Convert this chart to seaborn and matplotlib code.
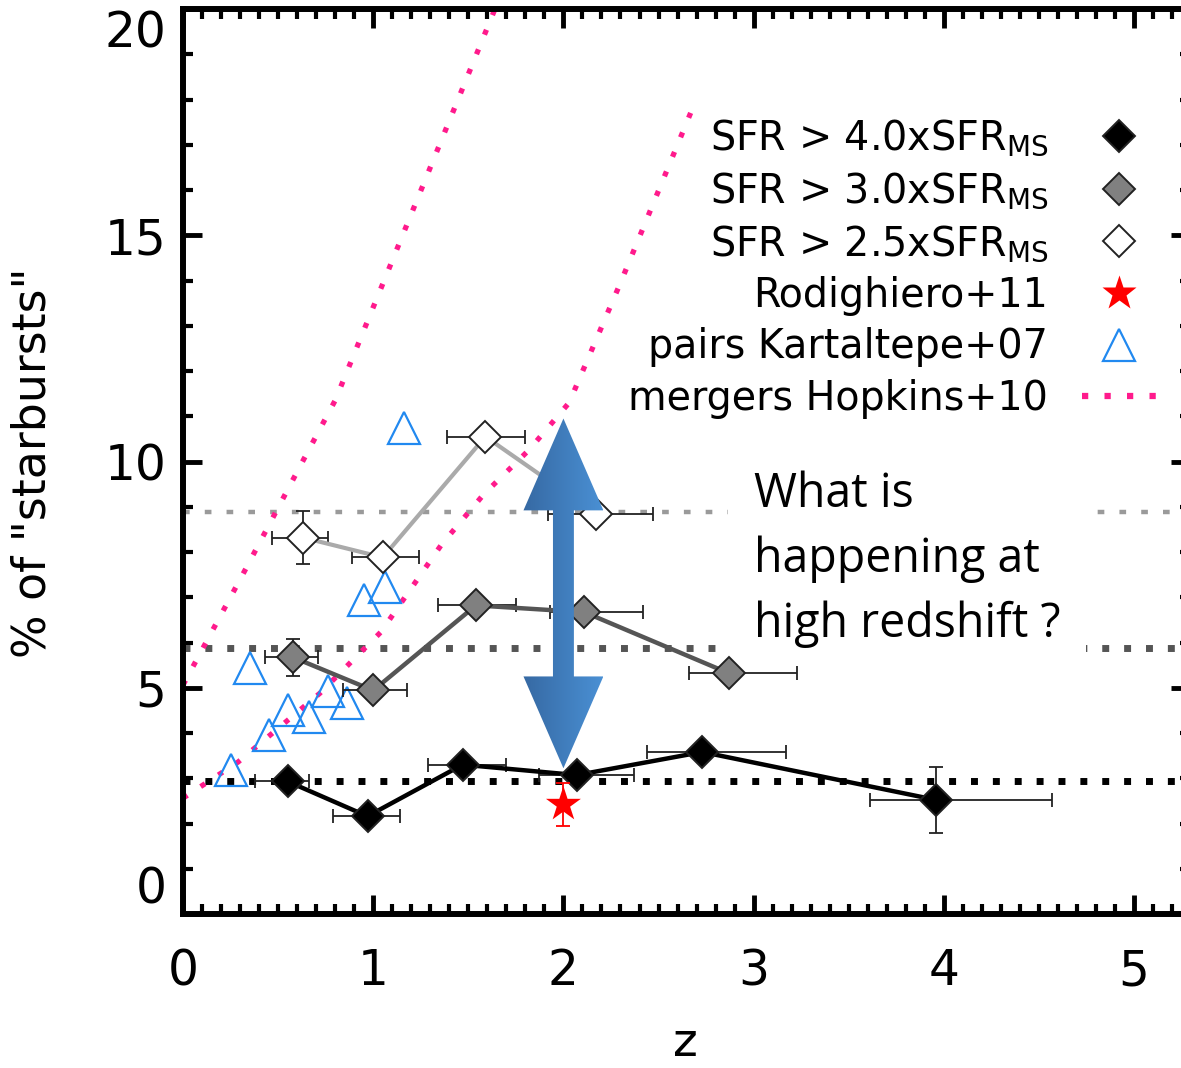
import numpy as np
import pandas as pd
import matplotlib
matplotlib.use("Agg")
import matplotlib.pyplot as plt
import matplotlib.patches as mpatches
from matplotlib.lines import Line2D
from matplotlib.ticker import MultipleLocator
import seaborn as sns

# ---------------- data ----------------
z_sfr4 = [0.55, 0.97, 1.47, 2.07, 2.73, 3.96]
f_sfr4 = [2.93, 2.16, 3.30, 3.07, 3.58, 2.52]
zlo_sfr4 = [0.17, 0.18, 0.18, 0.20, 0.29, 0.35]
zhi_sfr4 = [0.11, 0.17, 0.23, 0.30, 0.44, 0.61]
ferr_sfr4 = [0.05, 0.05, 0.12, 0.05, 0.15, 0.72]

z_sfr3 = [0.58, 1.00, 1.54, 2.11, 2.87]
f_sfr3 = [5.67, 4.94, 6.82, 6.67, 5.32]
zlo_sfr3 = [0.15, 0.16, 0.20, 0.18, 0.21]
zhi_sfr3 = [0.13, 0.18, 0.21, 0.31, 0.36]
ferr_sfr3 = [0.40, 0.05, 0.10, 0.10, 0.10]

z_sfr25 = [0.63, 1.05, 1.59, 2.17]
f_sfr25 = [8.32, 7.88, 10.55, 8.85]
zlo_sfr25 = [0.16, 0.16, 0.20, 0.25]
zhi_sfr25 = [0.13, 0.19, 0.21, 0.30]
ferr_sfr25 = [0.58, 0.05, 0.10, 0.05]

z_rodi = [2.0]
f_rodi = [2.42]
ferr_rodi = [0.48]

z_kart = [0.25, 0.35, 0.45, 0.55, 0.66, 0.76, 0.86, 0.95, 1.06, 1.16]
f_kart = [3.18, 5.43, 3.95, 4.50, 4.35, 4.92, 4.66, 6.95, 7.22, 10.75]

z_hop_hi = [0.0, 0.32, 0.64, 0.80, 1.64]
f_hop_hi = [5.06, 7.55, 10.09, 11.35, 20.0]
z_hop_lo = [0.0, 0.29, 0.72, 1.04, 1.36, 1.58, 1.82, 2.03, 2.30, 2.69]
f_hop_lo = [2.56, 3.36, 4.88, 6.23, 8.17, 9.27, 10.26, 11.30, 13.95, 17.92]

ref_levels = [2.93, 5.87, 8.88]

labels = ["SFR > 4.0xSFR$_{\\mathregular{MS}}$",
          "SFR > 3.0xSFR$_{\\mathregular{MS}}$",
          "SFR > 2.5xSFR$_{\\mathregular{MS}}$",
          "Rodighiero+11",
          "pairs Kartaltepe+07",
          "mergers Hopkins+10"]
annot_text = "What is\nhappening at\nhigh redshift ?"
xticks = [0, 1, 2, 3, 4, 5]
yticks = [0, 5, 10, 15, 20]

# ---------------- style ----------------
sns.set_theme(style="white")
plt.rcParams["font.family"] = ["DejaVu Sans"]
plt.rcParams["mathtext.fontset"] = "dejavusans"
plt.rcParams["text.color"] = "black"
plt.rcParams["axes.labelcolor"] = "black"
plt.rcParams["xtick.color"] = "black"
plt.rcParams["ytick.color"] = "black"

PINK = "#ff1a8c"
BLUE = "#2189f0"

W, H = 1181, 1068
fig = plt.figure(figsize=(W / 100, H / 100), dpi=100)
ax = fig.add_axes([183 / W, (H - 914) / H, 1007 / W, 905 / H])
ax.set_facecolor("white")

# reference horizontal dotted lines
ax.axhline(ref_levels[0], color="black", lw=5, dashes=(1, 2.15), zorder=1.5)
ax.axhline(ref_levels[1], color="#555555", lw=5, dashes=(1, 2.15), zorder=1.5)
ax.axhline(ref_levels[2], color="#9a9a9a", lw=3.2, dashes=(1.5, 3.4), zorder=1.5)

# Hopkins merger lines
for zz, ff in [(z_hop_hi, f_hop_hi), (z_hop_lo, f_hop_lo)]:
    ax.plot(zz, ff, color=PINK, lw=3.8, dashes=(1, 3.0), zorder=2)

# annotation text box
ax.text(3.0, 7.84, annot_text, family=["Open Sans", "DejaVu Sans"], fontsize=33.5,
        color="black", ha="left", va="center", linespacing=1.47, zorder=3,
        bbox=dict(boxstyle="square,pad=0.55", fc="white", ec="none"))

# Kartaltepe pairs
df_k = pd.DataFrame({"z": z_kart, "f": f_kart})
sns.lineplot(data=df_k, x="z", y="f", ax=ax, sort=False, estimator=None,
             linestyle="none", marker="^", markersize=23, markerfacecolor="none",
             markeredgecolor=BLUE, markeredgewidth=1.6, zorder=4)

# SFR series
series = [
    (z_sfr25, f_sfr25, zlo_sfr25, zhi_sfr25, ferr_sfr25, "#aaaaaa", "white", 3.0),
    (z_sfr3, f_sfr3, zlo_sfr3, zhi_sfr3, ferr_sfr3, "#555555", "#808080", 3.2),
    (z_sfr4, f_sfr4, zlo_sfr4, zhi_sfr4, ferr_sfr4, "black", "black", 3.2),
]
for zz, ff, zlo, zhi, fe, lc, fc, lw in series:
    ax.errorbar(zz, ff, xerr=[zlo, zhi], yerr=fe, fmt="none", ecolor="#222222",
                elinewidth=1.3, capsize=5, capthick=1.3, zorder=5)
    df = pd.DataFrame({"z": zz, "f": ff})
    sns.lineplot(data=df, x="z", y="f", ax=ax, sort=False, estimator=None,
                 color=lc, lw=lw, zorder=6)
    sns.lineplot(data=df, x="z", y="f", ax=ax, sort=False, estimator=None,
                 linestyle="none", marker="D", markersize=16,
                 markerfacecolor=fc, markeredgecolor="#222222",
                 markeredgewidth=1.4, zorder=7)

# Rodighiero star
ax.errorbar(z_rodi, f_rodi, yerr=ferr_rodi, fmt="none", ecolor="red",
            elinewidth=1.3, capsize=5, capthick=1.3, zorder=7)
sns.scatterplot(x=z_rodi, y=f_rodi, ax=ax, marker="*", s=700, color="red",
                edgecolor="none", zorder=8)

# double-headed arrow with gradient fill
xc, ytop, ybot = 2.0, 10.95, 3.22
head_len, head_hw, shaft_hw = 2.03, 0.21, 0.055
poly = np.array([
    [xc, ytop], [xc + head_hw, ytop - head_len], [xc + shaft_hw, ytop - head_len],
    [xc + shaft_hw, ybot + head_len], [xc + head_hw, ybot + head_len], [xc, ybot],
    [xc - head_hw, ybot + head_len], [xc - shaft_hw, ybot + head_len],
    [xc - shaft_hw, ytop - head_len], [xc - head_hw, ytop - head_len]])
arrow = mpatches.Polygon(poly, closed=True, fc="none", ec="none",
                         transform=ax.transData, zorder=9)
ax.add_patch(arrow)
grad = np.linspace(0, 1, 256).reshape(1, -1)
cmap = matplotlib.colors.LinearSegmentedColormap.from_list("arr", ["#3669a3", "#4a90d4"])
im = ax.imshow(grad, cmap=cmap, aspect="auto", zorder=9,
               extent=[xc - head_hw, xc + head_hw, ybot, ytop], interpolation="bilinear")
im.set_clip_path(arrow)

# axes limits, ticks, spines
ax.set_xlim(0, 5.294)
ax.set_ylim(0, 20)
ax.set_xticks(xticks)
ax.set_yticks(yticks)
ax.xaxis.set_minor_locator(MultipleLocator(0.1))
ax.yaxis.set_minor_locator(MultipleLocator(1))
ax.tick_params(which="both", direction="in", top=True, right=True, bottom=True,
               left=True, color="black", labelcolor="black")
ax.tick_params(which="major", length=14, width=3.5, labelsize=35)
ax.tick_params(which="minor", length=7, width=3)
ax.tick_params(axis="x", which="major", pad=24)
ax.tick_params(axis="y", which="major", pad=12)
for s in ax.spines.values():
    s.set_linewidth(4.3)
    s.set_color("black")
    s.set_visible(True)
ylabs = ax.get_yticklabels()
ylabs[0].set_va("bottom")
ylabs[-1].set_va("top")

ax.set_xlabel("z", fontsize=34, va="center", color="black")
ax.set_ylabel('% of "starbursts"', fontsize=33, va="center", color="black")
ax.xaxis.set_label_coords((685 - 183) / 1007, (914 - 1044) / 905)
ax.yaxis.set_label_coords((33 - 183) / 1007, (914 - 463) / 905)

# legend
handles = [
    Line2D([], [], ls="none", marker="D", ms=16, mfc="black", mec="#222222", mew=1.4),
    Line2D([], [], ls="none", marker="D", ms=16, mfc="#808080", mec="#222222", mew=1.4),
    Line2D([], [], ls="none", marker="D", ms=16, mfc="white", mec="#222222", mew=1.4),
    Line2D([], [], ls="none", marker="*", ms=26, mfc="red", mec="none"),
    Line2D([], [], ls="none", marker="^", ms=23, mfc="none", mec=BLUE, mew=1.6),
    Line2D([], [], color=PINK, lw=4.5, dashes=(1, 2.6)),
]
leg = ax.legend(handles, labels, loc="upper right", frameon=False, fontsize=28.5,
                markerfirst=False, handlelength=1.9, handletextpad=0.85,
                labelspacing=0.295, borderpad=0, borderaxespad=0,
                bbox_to_anchor=(1157 / W, 1 - 118 / H), bbox_transform=fig.transFigure)
for t in leg.get_texts():
    t.set_color("black")
leg.set_zorder(10)

fig.savefig("out.png", dpi=100, facecolor="white")
